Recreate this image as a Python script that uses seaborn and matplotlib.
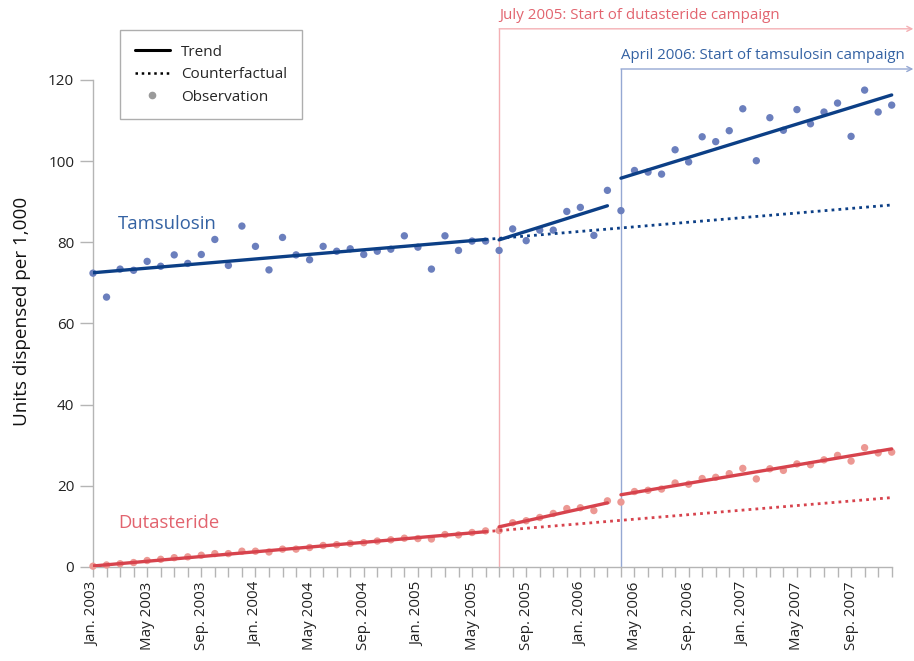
import numpy as np
import pandas as pd
import matplotlib
matplotlib.use("Agg")
import matplotlib.pyplot as plt
from matplotlib.lines import Line2D
import seaborn as sns

# ---- data -------------------------------------------------------------
month_index = list(range(60))  # Jan. 2003 .. Dec. 2007

tick_positions = list(range(0, 60, 4))
tick_labels = ["Jan. 2003", "May 2003", "Sep. 2003",
               "Jan. 2004", "May 2004", "Sep. 2004",
               "Jan. 2005", "May 2005", "Sep. 2005",
               "Jan. 2006", "May 2006", "Sep. 2006",
               "Jan. 2007", "May 2007", "Sep. 2007"]

tamsulosin_obs = [72.4, 66.5, 73.4, 73.1, 75.3, 74.1, 76.9, 74.8, 77.0, 80.7,
                  74.3, 84.0, 79.0, 73.2, 81.2, 76.9, 75.7, 79.0, 77.8, 78.4,
                  77.0, 77.8, 78.3, 81.6, 78.8, 73.4, 81.6, 78.0, 80.3, 80.3,
                  78.0, 83.3, 80.4, 83.0, 83.0, 87.6, 88.6, 81.7, 92.8, 87.8,
                  97.7, 97.3, 96.8, 102.8, 99.8, 106.0, 104.8, 107.5, 112.9, 100.1,
                  110.7, 107.6, 112.7, 109.2, 112.1, 114.3, 106.1, 117.5, 112.1, 113.8]

dutasteride_obs = [0.2, 0.5, 0.8, 1.1, 1.6, 1.9, 2.3, 2.5, 2.9, 3.3,
                   3.3, 3.9, 3.9, 3.7, 4.4, 4.4, 4.8, 5.3, 5.5, 5.8,
                   6.0, 6.4, 6.7, 7.1, 7.0, 6.9, 8.0, 7.9, 8.5, 8.9,
                   9.0, 10.9, 11.4, 12.2, 13.2, 14.4, 14.6, 13.9, 16.3, 16.0,
                   18.6, 18.9, 19.2, 20.7, 20.4, 21.8, 22.1, 23.0, 24.3, 21.7,
                   24.2, 23.8, 25.4, 25.2, 26.4, 27.5, 26.1, 29.4, 28.1, 28.3]

# segmented trend lines: (start month, end month) and (start value, end value)
trend_segments = [(0, 29), (30, 38), (39, 59)]
tamsulosin_trend = [(72.5, 80.7), (80.6, 89.0), (95.8, 116.3)]
dutasteride_trend = [(0.25, 8.7), (9.9, 15.8), (17.8, 29.1)]

counterfactual_span = (29, 59)
tamsulosin_counterfactual = (80.7, 89.2)
dutasteride_counterfactual = (8.7, 17.1)

dutasteride_campaign_month = 30   # July 2005
tamsulosin_campaign_month = 39    # April 2006

# ---- style ------------------------------------------------------------
sns.set_theme(style="white")
plt.rcParams["font.family"] = ["Open Sans", "DejaVu Sans"]

TAM_LINE = "#0c3f86"
TAM_DOT = "#6b7fbd"
TAM_TEXT = "#3462a3"
DUT_LINE = "#d7434d"
DUT_DOT = "#ec9893"
DUT_TEXT = "#e2646f"
AXIS_GREY = "#b5b5b5"

fig = plt.figure(figsize=(9.14, 6.61), dpi=100)
ax = fig.add_axes([93 / 914, 94 / 661, 819 / 914, 567 / 661])
ax.set_xlim(0, 60.5)
ax.set_ylim(0, 139.7)

obs = pd.DataFrame({"month": month_index,
                    "Tamsulosin": tamsulosin_obs,
                    "Dutasteride": dutasteride_obs})

# campaign markers (drawn underneath the data)
for month, top, col, txt_col, size, label in [
        (dutasteride_campaign_month, 132.6, "#f4b0b4", DUT_TEXT, 10.9,
         "July 2005: Start of dutasteride campaign"),
        (tamsulosin_campaign_month, 122.7, "#95a8d3", TAM_TEXT, 10.85,
         "April 2006: Start of tamsulosin campaign")]:
    ax.plot([month, month], [0, top], color=col, lw=1.0, zorder=1, clip_on=False)
    ax.annotate("", xy=(60.6, top), xytext=(month, top),
                arrowprops=dict(arrowstyle="->", color=col, lw=1.0,
                                shrinkA=0, shrinkB=0, mutation_scale=9),
                annotation_clip=False, zorder=1)
    ax.text(month, top + 3.4, label, color=txt_col, fontsize=size,
            ha="left", va="center")

# observations
sns.scatterplot(data=obs, x="month", y="Tamsulosin", color=TAM_DOT, s=28,
                edgecolor="none", ax=ax, zorder=3, clip_on=False)
sns.scatterplot(data=obs, x="month", y="Dutasteride", color=DUT_DOT, s=28,
                edgecolor="none", ax=ax, zorder=3, clip_on=False)

# trends
for (m0, m1), (t0, t1), (d0, d1) in zip(trend_segments, tamsulosin_trend,
                                        dutasteride_trend):
    sns.lineplot(x=[m0, m1], y=[t0, t1], color=TAM_LINE, linewidth=2.4,
                 ax=ax, zorder=4)
    sns.lineplot(x=[m0, m1], y=[d0, d1], color=DUT_LINE, linewidth=2.4,
                 ax=ax, zorder=4)

# counterfactuals
cf_x = list(counterfactual_span)
sns.lineplot(x=cf_x, y=list(tamsulosin_counterfactual), color=TAM_LINE,
             linewidth=2.0, linestyle=(0, (1, 1.5)), ax=ax, zorder=4)
sns.lineplot(x=cf_x, y=list(dutasteride_counterfactual), color=DUT_LINE,
             linewidth=2.0, linestyle=(0, (1, 1.5)), ax=ax, zorder=4)

# series labels
ax.text(1.85, 84.5, "Tamsulosin", color=TAM_TEXT, fontsize=13.3, va="center")
ax.text(1.85, 10.8, "Dutasteride", color=DUT_TEXT, fontsize=13.3, va="center")

# axes styling
for side in ["top", "right"]:
    ax.spines[side].set_visible(False)
for side in ["left", "bottom"]:
    ax.spines[side].set_color(AXIS_GREY)
    ax.spines[side].set_linewidth(1.0)
ax.spines["left"].set_bounds(0, 120)
ax.spines["bottom"].set_bounds(0, 59)

ax.set_yticks(range(0, 121, 20))
ax.set_xticks(month_index)
labels_all = [""] * len(month_index)
for pos, lab in zip(tick_positions, tick_labels):
    labels_all[pos] = lab
ax.set_xticklabels(labels_all, rotation=90, fontsize=10.9, color="#222222")
ax.tick_params(axis="y", labelsize=11, labelcolor="#222222", length=9.5,
               width=1.0, color=AXIS_GREY, direction="out", left=True, pad=4)
ax.tick_params(axis="x", length=7.5, width=1.0, color=AXIS_GREY,
               direction="out", bottom=True, pad=3)

ax.set_xlabel("")
ax.set_ylabel("Units dispensed per 1,000", fontsize=13.6, color="#111111")
ax.yaxis.set_label_coords(-0.076, 0.45)

# legend
handles = [Line2D([], [], color="black", lw=2.2),
           Line2D([], [], color="black", lw=1.8, linestyle=(0, (1, 1.5))),
           Line2D([], [], color="#9a9a9a", marker="o", markersize=4.5,
                  linestyle="none")]
leg = fig.legend(handles, ["Trend", "Counterfactual", "Observation"],
                 loc="upper left", bbox_to_anchor=(120 / 914, 1 - 30 / 661),
                 fontsize=11, frameon=True, fancybox=False,
                 edgecolor="#9a9a9a", handlelength=2.3, borderpad=0.95,
                 labelspacing=0.5, handletextpad=0.75, borderaxespad=0)
leg.get_frame().set_linewidth(1.0)

fig.savefig("out.png", dpi=100)
